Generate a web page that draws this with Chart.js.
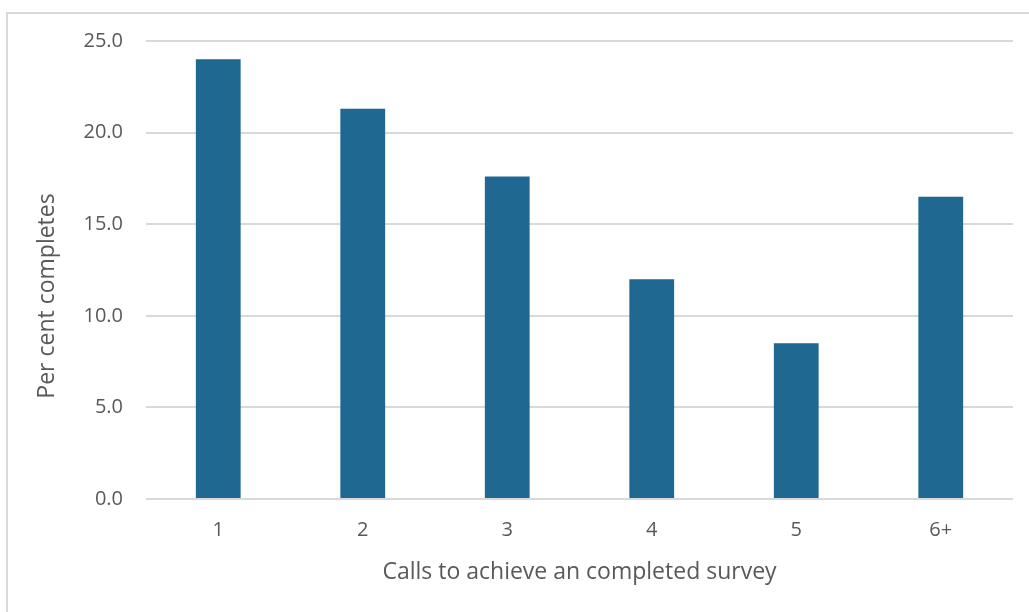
<!DOCTYPE html>
<html>
<head>
<meta charset="utf-8">
<script src="https://cdn.jsdelivr.net/npm/chart.js@4/dist/chart.umd.min.js"></script>
<style>
  html, body { margin: 0; padding: 0; background: #fff; }
  #wrap { position: relative; width: 1029px; height: 612px; overflow: hidden; }
  #frame { position: absolute; left: 6px; top: 12px; width: 1040px; height: 620px; border: 2px solid #d9d9d9; box-sizing: border-box; }
  #box { position: absolute; left: 0; top: 0; width: 1029px; height: 612px; }
</style>
</head>
<body>
<div id="wrap">
  <div id="frame"></div>
  <div id="box"><canvas id="chart"></canvas></div>
</div>
<script>
const categories = ["1", "2", "3", "4", "5", "6+"];
const perCentCompletes = [24.0, 21.3, 17.6, 12.0, 8.5, 16.5];
const yTicks = [0, 5, 10, 15, 20, 25];

const textColor = "#595959";
const gridColor = "#d9d9d9";
const fontFamily = "'Open Sans', sans-serif";
const yTitle = "Per cent completes";

// y title drawn by hand: the reference sits it a bit below the plot centre
const yTitlePlugin = {
  id: "yTitle",
  afterDraw(chart) {
    const ctx = chart.ctx;
    ctx.save();
    ctx.translate(47, 296);
    ctx.rotate(-Math.PI / 2);
    ctx.font = "23px " + fontFamily;
    ctx.fillStyle = textColor;
    ctx.textAlign = "center";
    ctx.textBaseline = "middle";
    ctx.fillText(yTitle, 0, 0);
    ctx.restore();
  },
};

new Chart(document.getElementById("chart"), {
  type: "bar",
  data: {
    labels: categories,
    datasets: [
      {
        label: "Per cent completes",
        data: perCentCompletes,
        backgroundColor: "#1f6891",
        borderWidth: 0,
        barPercentage: 0.31,
        categoryPercentage: 1,
      },
    ],
  },
  plugins: [yTitlePlugin],
  options: {
    responsive: true,
    maintainAspectRatio: false,
    animation: false,
    layout: {
      padding: { left: 30, top: 41, right: 16, bottom: 26 },
    },
    plugins: {
      legend: { display: false },
      tooltip: { enabled: false },
    },
    scales: {
      x: {
        grid: { display: false, drawTicks: false },
        border: { display: false },
        ticks: {
          color: textColor,
          padding: 19,
          font: { family: fontFamily, size: 20 },
        },
        title: {
          display: true,
          text: "Calls to achieve an completed survey",
          color: textColor,
          font: { family: fontFamily, size: 23 },
          padding: 0,
        },
        afterFit: (scale) => {
          scale.height = 612 - 26 - 499;
        },
      },
      y: {
        min: 0,
        max: 25,
        afterBuildTicks: (scale) => {
          scale.ticks = yTicks.map((v) => ({ value: v }));
        },
        grid: { color: gridColor, lineWidth: 2, drawTicks: false },
        border: { display: false },
        ticks: {
          color: textColor,
          padding: 23,
          font: { family: fontFamily, size: 20 },
          callback: (v) => v.toFixed(1),
        },
        afterFit: (scale) => {
          scale.width = 146 - 30;
        },
      },
    },
  },
});
</script>
</body>
</html>
